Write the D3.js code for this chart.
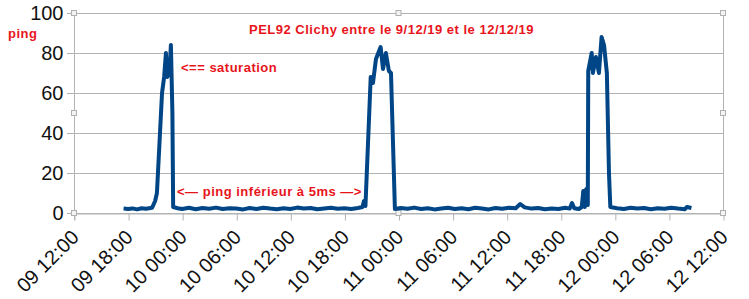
<!DOCTYPE html>
<html>
<head>
<meta charset="utf-8">
<script src="https://cdn.jsdelivr.net/npm/d3@7"></script>
<style>
  body { margin: 0; background: #fff; }
  svg { display: block; }
  .red { fill: #e8141c; font-family: "Liberation Sans", Arial, sans-serif; font-weight: bold; font-size: 13px; letter-spacing: 0.5px; }
</style>
</head>
<body>
<div class="container"></div>
<script>
// ping (ms) mesures, heure "JJ HH:MM" en decembre 2019
const times = [
  "09 17:30","09 18:00","09 18:30","09 19:00","09 19:30","09 20:00","09 20:40","09 21:00","09 21:12",
  "09 21:46","09 22:00","09 22:12","09 22:20","09 22:35","09 22:45","09 22:55","09 23:00","09 23:30",
  "10 00:00","10 00:45","10 01:30","10 02:15","10 03:00","10 03:45","10 04:30","10 05:15","10 06:00",
  "10 06:45","10 07:30","10 08:15","10 09:00","10 09:45","10 10:30","10 11:15","10 12:00","10 12:45",
  "10 13:30","10 14:15","10 15:00","10 15:45","10 16:30","10 17:15","10 18:00","10 18:45","10 19:30",
  "10 20:00","10 20:10","10 20:20","10 20:55","10 21:10","10 21:30","10 22:01","10 22:17","10 22:36",
  "10 22:56","10 23:10","10 23:36","11 00:15","11 01:00","11 01:45","11 02:30","11 03:15","11 04:00",
  "11 04:45","11 05:30","11 06:15","11 07:00","11 07:45","11 08:30","11 09:15","11 10:00","11 10:45",
  "11 11:30","11 12:15","11 13:00","11 13:30","11 14:00","11 14:45","11 15:30","11 16:15","11 17:00",
  "11 17:45","11 18:30","11 19:00","11 19:15","11 19:30","11 20:00","11 20:20","11 20:30","11 20:40",
  "11 20:50","11 21:00","11 21:03","11 21:26","11 21:34","11 21:54","11 22:14","11 22:32","11 22:48",
  "11 23:07","11 23:21","11 23:30","12 00:15","12 01:00","12 01:45","12 02:30","12 03:15","12 04:00",
  "12 04:45","12 05:30","12 06:15","12 07:00","12 07:45","12 08:00","12 08:30"
];
const pings = [
  2.2, 2.0, 2.3, 1.8, 2.4, 2.1, 2.6, 6, 10,
  60, 68, 80, 68, 70, 84, 50, 3, 2.4,
  2.0, 2.6, 1.9, 2.5, 2.1, 2.7, 2.0, 2.4, 2.2,
  1.8, 2.5, 2.0, 2.6, 2.2, 1.9, 2.4, 2.0, 2.7,
  2.2, 2.5, 1.9, 2.3, 2.6, 2.1, 2.4, 2.0, 2.5,
  3.0, 6.0, 3.5, 68, 65, 77, 83, 72, 80,
  71, 70, 2.0, 2.5, 2.1, 2.7, 2.0, 2.4, 1.8,
  2.3, 2.6, 2.0, 2.4, 1.9, 2.6, 2.2, 1.8, 2.5,
  2.1, 2.6, 2.4, 4.5, 2.8, 2.2, 2.5, 1.9, 2.3,
  2.0, 2.6, 2.2, 5.0, 2.4, 2.0, 3.0, 11, 3.0,
  12, 4.0, 71, 80, 70, 78, 70, 88, 84,
  70, 20, 3.0, 2.4, 2.0, 2.6, 2.2, 2.5, 1.9,
  2.4, 2.1, 2.6, 2.2, 1.9, 3.0, 2.5
];
const yTicks = [0, 20, 40, 60, 80, 100];
const xTickLabels = ["09 12:00","09 18:00","10 00:00","10 06:00","10 12:00","10 18:00","11 00:00",
  "11 06:00","11 12:00","11 18:00","12 00:00","12 06:00","12 12:00"];

const parseT = s => new Date(2019, 11, +s.slice(0, 2), +s.slice(3, 5), +s.slice(6, 8));
const dataSet = times.map((t, i) => ({ t: parseT(t), v: pings[i] }));

const width = 749, height = 299;
const pLeft = 74, pRight = 723, pTop = 13, pBottom = 213;

const svg = d3.select(".container").append("svg")
  .attr("width", width).attr("height", height);

const xScale = d3.scaleTime()
  .domain([parseT(xTickLabels[0]), parseT(xTickLabels[xTickLabels.length - 1])])
  .range([pLeft, pRight]);
const yScale = d3.scaleLinear().domain([0, 100]).range([pBottom, pTop]);

// grille horizontale
svg.append("g")
  .selectAll("line")
  .data(yTicks)
  .enter().append("line")
  .attr("x1", pLeft - 7).attr("x2", pRight)
  .attr("y1", d => yScale(d) + 0.5).attr("y2", d => yScale(d) + 0.5)
  .attr("stroke", "#b3b3b3");

// bord droit
svg.append("line")
  .attr("x1", pRight + 0.5).attr("x2", pRight + 0.5)
  .attr("y1", pTop).attr("y2", pBottom)
  .attr("stroke", "#b3b3b3");

// axe y
const yAxis = d3.axisLeft(yScale).tickValues(yTicks).tickSize(0).tickPadding(11);
svg.append("g")
  .attr("id", "y-axis")
  .attr("transform", `translate(${pLeft + 0.5},0)`)
  .call(yAxis)
  .call(g => g.select(".domain").attr("stroke", "#b3b3b3").attr("d", `M0,${pTop}V${pBottom + 7}`))
  .call(g => g.selectAll("text")
    .attr("font-family", "Liberation Sans, Arial, sans-serif")
    .attr("font-size", 20).attr("fill", "#111"));

// axe x
const xAxis = d3.axisBottom(xScale)
  .tickValues(xTickLabels.map(parseT))
  .tickFormat(d3.timeFormat("%d %H:%M"))
  .tickSize(7).tickSizeOuter(0);
svg.append("g")
  .attr("id", "x-axis")
  .attr("transform", `translate(0.5,${pBottom + 0.5})`)
  .call(xAxis)
  .call(g => g.select(".domain").attr("stroke", "#b3b3b3"))
  .call(g => g.selectAll(".tick line").attr("stroke", "#b3b3b3"))
  .call(g => g.selectAll("text")
    .attr("font-family", "Liberation Sans, Arial, sans-serif")
    .attr("font-size", 20).attr("fill", "#111")
    .attr("text-anchor", "end")
    .attr("dy", null).attr("y", 0)
    .attr("transform", "translate(5,25) rotate(-45)"));

// poignees de selection
const handles = [[pLeft, pTop], [pLeft, (pTop + pBottom) / 2], [pLeft, pBottom],
  [(pLeft + pRight) / 2, pTop], [(pLeft + pRight) / 2, pBottom],
  [pRight, pTop], [pRight, (pTop + pBottom) / 2], [pRight, pBottom]];
svg.append("g").selectAll("rect")
  .data(handles).enter().append("rect")
  .attr("x", d => d[0] - 2.5).attr("y", d => d[1] - 2.5)
  .attr("width", 5).attr("height", 5)
  .attr("fill", "#f4f4f4").attr("stroke", "#b0b0b0");

// courbe
const line = d3.line().x(d => xScale(d.t)).y(d => yScale(d.v));
svg.append("path")
  .datum(dataSet)
  .attr("d", line)
  .attr("fill", "none")
  .attr("stroke", "#004586")
  .attr("stroke-width", 4)
  .attr("stroke-linejoin", "round");

// textes
svg.append("text").attr("class", "red").attr("x", 8).attr("y", 38).text("ping");
svg.append("text").attr("class", "red").attr("x", 249).attr("y", 34)
  .text("PEL92 Clichy entre le 9/12/19 et le 12/12/19");
svg.append("text").attr("class", "red").attr("x", 181).attr("y", 72)
  .text("<== saturation");
svg.append("text").attr("class", "red").attr("x", 177).attr("y", 196)
  .text("<\u2014 ping inférieur à 5ms \u2014>");
</script>
</body>
</html>
